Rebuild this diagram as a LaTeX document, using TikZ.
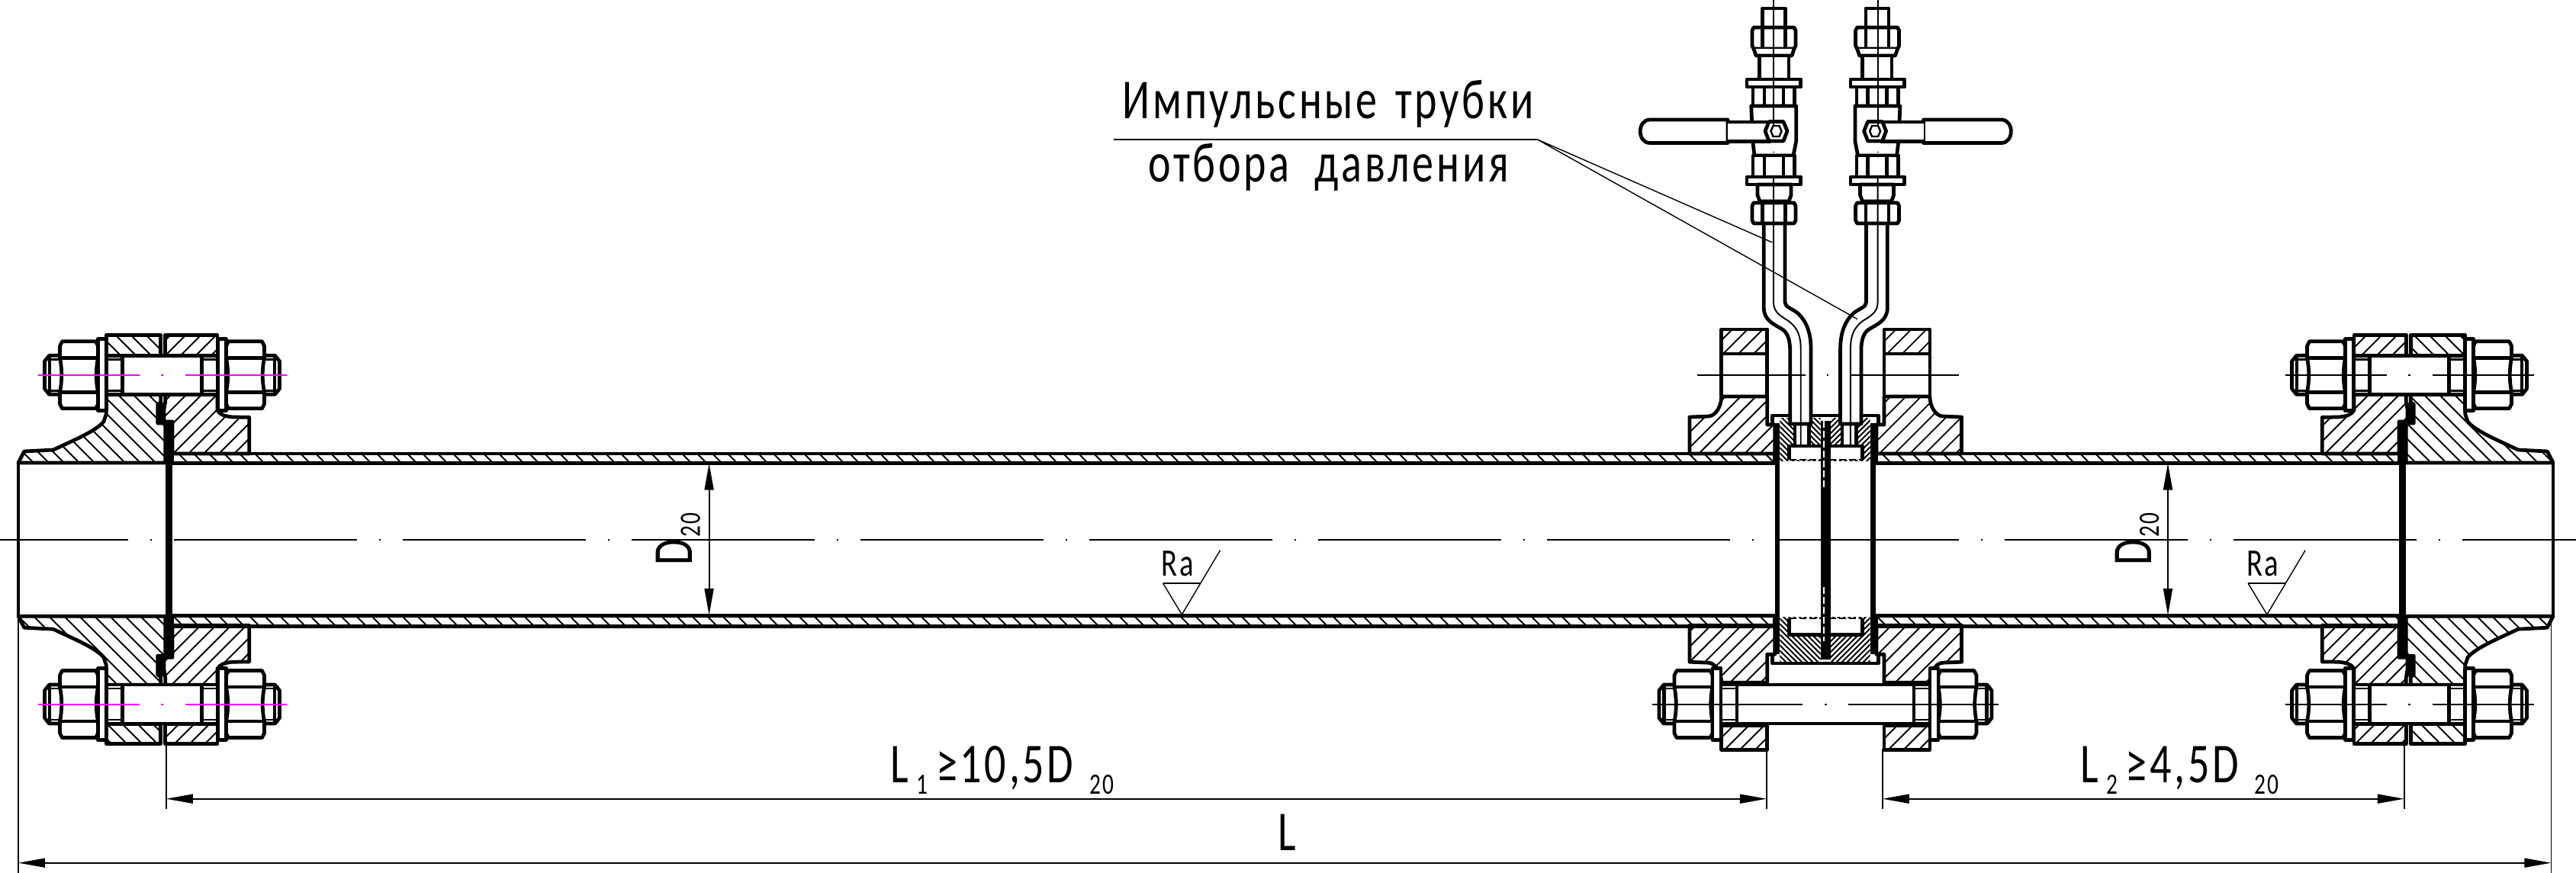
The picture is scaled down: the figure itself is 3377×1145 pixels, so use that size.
\documentclass[tikz,border=0pt]{standalone}
\usepackage{fontspec}
\setmainfont{Carlito}
\newfontfamily\gostfont[FakeStretch=0.76,LetterSpace=5]{Carlito}
\usetikzlibrary{arrows.meta}
\tikzstyle{contour} = [draw=black, line width=1.35pt, line join=round]
\tikzstyle{hatchline} = [draw=black, line width=0.55pt]
\tikzstyle{medline} = [draw=black, line width=0.7pt]
\tikzstyle{dimline} = [draw=black, line width=0.55pt]
\tikzstyle{leaderline} = [draw=black, line width=0.4pt]
\tikzstyle{hiddenline} = [draw=black, line width=0.55pt, dash pattern=on 2.5pt off 1.2pt]
\tikzstyle{dimarrow} = [dimline, {Triangle[length=10pt,width=3.4pt]}-{Triangle[length=10pt,width=3.4pt]}]
\tikzstyle{pinkaxis} = [draw=magenta, line width=0.55pt]
\tikzstyle{blackaxis} = [draw=black, line width=0.55pt]
\tikzstyle{gostlabel} = [font=\gostfont\fontsize{21}{25}\selectfont, inner sep=0pt]
\tikzstyle{roughlabel} = [font=\gostfont\fontsize{14.5}{17}\selectfont, inner sep=0pt]
\tikzstyle{smalllabel} = [font=\gostfont\fontsize{11}{13}\selectfont, inner sep=0pt]
\definecolor{magenta}{RGB}{255,0,255}
\newcommand{\gostsub}[1]{\raisebox{-4.3pt}{\fontsize{11}{13}\selectfont #1}}
% path, direction, spacing, x from, x to
\newcommand{\hatchonly}[5]{%
    \begin{scope}
        \clip #1;
        \pgfmathsetmacro{\hfirst}{#4-300}
        \pgfmathsetmacro{\hnext}{#4-300+#3}
        \pgfmathsetmacro{\hlast}{#5+300}
        \foreach \i in {\hfirst,\hnext,...,\hlast}
            \draw[hatchline] ({\i-300*#2},407) -- ({\i+300*#2},1007);
    \end{scope}
}
\newcommand{\hatcharea}[5]{%
    \hatchonly{#1}{#2}{#3}{#4}{#5}
    \draw[contour] #1;
}
% centre x, centre y, half span, axis style
\newcommand{\boltset}[4]{%
    \foreach \side in {-1,1} {
        \begin{scope}[shift={(#1,#2)},xscale=\side]
            \draw[contour,fill=white] (0,-25.5) -- ({#3-21},-25.5) -- ({#3-21},25.5) -- (0,25.5);
            \begin{scope}[shift={(#3,0)}]
                \draw[contour,fill=white] (-21,-25.5) rectangle (0,25.5);
                \draw[medline] (-21,-20.5) -- (0,-20.5) (-21,20.5) -- (0,20.5);
                \draw[contour,fill=white] (61,-25.5) -- (75,-25.5) -- (81,-18) -- (81,18) -- (75,25.5) -- (61,25.5);
                \draw[contour] (74.5,-25.5) -- (74.5,25.5);
                \draw[medline] (61,-20.5) -- (74.5,-20.5) (61,20.5) -- (74.5,20.5);
                \draw[contour,fill=white] (14,-44) -- (58,-44) -- (61,-38) -- (61,-22.5) .. controls (58,-8) and (58,8) .. (61,22.5) -- (61,38) -- (58,44) -- (14,44) -- (11,38) -- (11,22.5) .. controls (14,8) and (14,-8) .. (11,-22.5) -- (11,-38) -- cycle;
                \draw[contour] (11,-22.5) -- (61,-22.5) (11,22.5) -- (61,22.5);
                \draw[contour,fill=white] (0,-47) rectangle (11,47);
            \end{scope}
            \draw[#4] (30,0) -- ({#3+90},0);
            \draw[#4] (0,0) -- (1.5,0);
        \end{scope}
    }
}
% hatch direction of the hub, hatch direction of the loose flange
\newcommand{\flangehalf}[2]{%
    \hatcharea{(24,607) -- (31.7,592) -- (70,590) .. controls (95,578) and (125,566) .. (136,553) -- (139.3,543) -- (139.3,517) -- (210.7,517) -- (210.7,528) -- (206.7,530) -- (206.7,555) -- (216.7,555) -- (216.7,607) -- cycle}{#1}{20}{24}{217}
    \hatcharea{(216.7,517) -- (216.7,527) -- (215,537) -- (215,553) -- (226,553) -- (226,595) -- (326.7,595) -- (326.7,547.3) -- (305,547) .. controls (295,546) and (288,544) .. (285,538) -- (285,517) -- cycle}{#2}{20}{215}{327}
    \hatcharea{(139.3,439.4) rectangle (210.7,466)}{#1}{20}{139}{211}
    \hatcharea{(216.7,439.4) rectangle (285,466)}{#2}{20}{216}{285}
    \fill (207,530) -- (216.7,527.5) -- (216.7,532) -- (215,537) -- (215,556) -- (207,556) -- cycle;
    \fill (216.7,553) rectangle (226,707.6);
    \draw[contour] (24,607) -- (24,707.6);
}
\newcommand{\midflange}[1]{%
    \hatcharea{(2215,595) -- (2215,547) -- (2240,546) .. controls (2250,545) and (2256.7,532) .. (2256.7,520) -- (2316.7,520) -- (2316.7,557) -- (2326.7,557) -- (2326.7,595) -- cycle}{#1}{20}{2215}{2327}
    \hatcharea{(2256.7,432) rectangle (2316.7,464)}{#1}{20}{2256}{2317}
    \draw[contour] (2256.7,464) -- (2256.7,520) (2316.7,464) -- (2316.7,520);
}
\newcommand{\valveline}{%
    \fill[white] (2346.7,530) rectangle (2374,556);
    \draw[contour,fill=white] (2353,556) rectangle (2371.7,585);
    \draw[contour] (2312.3,293) -- (2312.3,403.6) .. controls (2312.3,420) and (2325,425) .. (2336.7,432) .. controls (2343,436) and (2346.7,445) .. (2346.7,460) -- (2346.7,556) -- (2374,556) -- (2374,457) .. controls (2374,435) and (2367,420) .. (2356.7,410.7) .. controls (2350,405) and (2340,403) .. (2340,396.4) -- (2340,293);
    \draw[contour,fill=white] (2310.7,11) rectangle (2340.7,36);
    \draw[contour,fill=white] (2299,36) -- (2352,36) -- (2354,40) -- (2354,60) -- (2352,64) -- (2299,64) -- (2297,60) -- (2297,40) -- cycle;
    \draw[contour] (2310.7,36) -- (2310.7,64) (2340.7,36) -- (2340.7,64);
    \draw[contour,fill=white] (2299,64) -- (2302,73) -- (2349,73) -- (2352,64);
    \draw[contour,fill=white] (2306.7,73) rectangle (2345,104);
    \draw[contour,fill=white] (2290,104) rectangle (2360.7,114);
    \draw[contour,fill=white] (2298,114) rectangle (2352.7,139);
    \draw[contour] (2313,114) -- (2313,139) (2338,114) -- (2338,139);
    \draw[contour,fill=white] (2295.7,139) -- (2354.7,139) -- (2354.7,185) -- (2351,204) -- (2300,204) -- (2297.7,185) -- cycle;
    \draw[contour,fill=white] (2298,204) rectangle (2352.7,232);
    \draw[contour] (2313,204) -- (2313,232) (2338,204) -- (2338,232);
    \draw[contour,fill=white] (2290,232) rectangle (2360.7,242);
    \draw[contour,fill=white] (2304,242) -- (2348,242) -- (2348,256) -- (2345,264) -- (2307,264) -- (2304,256) -- cycle;
    \draw[contour,fill=white] (2299,266) -- (2352,266) -- (2354,270) -- (2354,289) -- (2352,293) -- (2299,293) -- (2297,289) -- (2297,270) -- cycle;
    \draw[contour] (2310.7,266) -- (2310.7,293) (2340.7,266) -- (2340.7,293);
    \draw[contour,fill=white] (2265,157) -- (2163,157) .. controls (2146,157) and (2146,187.5) .. (2163,187.5) -- (2265,187.5) -- cycle;
    \draw[contour,fill=white] (2265,160) -- (2320,160) -- (2320,185.7) -- (2265,185.7);
    \draw[contour,fill=white] (2314,172) -- (2319,159.5) -- (2338,159.5) -- (2343,172) -- (2338,185) -- (2319,185) -- cycle;
    \draw[medline] (2321.5,172) -- (2324.5,165) -- (2332.5,165) -- (2335.5,172) -- (2332.5,179) -- (2324.5,179) -- cycle;
    \draw[blackaxis] (2325,0) -- (2325,166);
    \draw[blackaxis] (2325,199) -- (2325,200);
    \draw[blackaxis] (2325,232) -- (2325,396) .. controls (2325,408) and (2332,413) .. (2340,418) .. controls (2352,425) and (2360.7,435) .. (2360.7,457) -- (2360.7,585);
}

\begin{document}
\begin{tikzpicture}[x=0.01cm,y=-0.01cm]
    \useasboundingbox (0,0) rectangle (3377,1145);

    \draw[blackaxis,dash pattern=on 68.29pt off 8.25pt on 0.5pt off 8.25pt,dash phase=20.4pt] (0,707.6) -- (3377,707.6);

    % pipe walls
    \hatcharea{(226,595) rectangle (2326.7,607.5)}{1}{20}{226}{2327}
    \hatcharea{(226,807.5) rectangle (2326.7,821.5)}{1}{20}{226}{2327}
    \hatcharea{(2459.3,595) rectangle (3145,607.5)}{1}{20}{2459}{3145}
    \hatcharea{(2459.3,807.5) rectangle (3145,821.5)}{1}{20}{2459}{3145}

    % end flanges
    \flangehalf{1}{-1}
    \begin{scope}[shift={(0,1415.2)},yscale=-1]
        \flangehalf{-1}{1}
    \end{scope}
    \begin{scope}[shift={(3371,0)},xscale=-1]
        \flangehalf{-1}{1}
    \end{scope}
    \begin{scope}[shift={(3371,1415.2)},xscale=-1,yscale=-1]
        \flangehalf{1}{-1}
    \end{scope}

    % middle flanges
    \midflange{-1}
    \begin{scope}[shift={(4786.6,0)},xscale=-1]
        \midflange{1}
    \end{scope}
    \begin{scope}[shift={(0,1415.2)},yscale=-1]
        \midflange{1}
    \end{scope}
    \begin{scope}[shift={(4786.6,1415.2)},xscale=-1,yscale=-1]
        \midflange{-1}
    \end{scope}

    % chamber between the middle flanges
    \hatchonly{(2333.3,548) rectangle (2386.7,604)}{1}{7}{2333}{2387}
    \hatchonly{(2400,548) rectangle (2451.7,604)}{-1}{7}{2400}{2452}
    \hatchonly{(2333.3,809) rectangle (2386.7,868)}{1}{7}{2333}{2387}
    \hatchonly{(2400,809) rectangle (2451.7,868)}{-1}{7}{2400}{2452}
    \draw[contour,fill=white] (2345.7,603) -- (2345.7,585) -- (2441.7,585) -- (2441.7,603);
    \draw[hiddenline] (2345.7,603) -- (2441.7,603);
    \draw[contour,fill=white] (2345.7,811) -- (2345.7,832.5) -- (2441.7,832.5) -- (2441.7,811);
    \draw[hiddenline] (2345.7,811) -- (2441.7,811);
    \draw[contour] (2323.3,557) -- (2323.3,545) -- (2462.7,545) -- (2462.7,557);
    \draw[contour] (2323.3,857.5) -- (2323.3,870) -- (2462.7,870) -- (2462.7,857.5);
    \fill (2326.7,555) rectangle (2333.3,857.5);
    \fill (2451.7,555) rectangle (2459.3,857.5);
    \fill (2386.7,552) rectangle (2400,864.6);
    \draw[white,line width=0.55pt,dash pattern=on 2.5pt off 1.2pt] (2391,552) -- (2391,641) (2391,770) -- (2391,841);

    % bolts
    \boltset{212.5}{491.8}{73}{pinkaxis}
    \boltset{212.5}{923.6}{73}{pinkaxis}
    \boltset{3158.5}{491.8}{73}{blackaxis}
    \boltset{3158.5}{923.6}{73}{blackaxis}
    \boltset{2393}{923.6}{137}{blackaxis}
    \draw[blackaxis] (2225,491.8) -- (2366.7,491.8) (2426.7,491.8) -- (2567.7,491.8) (2395,491.8) -- (2396.5,491.8);

    % impulse tubes with valves
    \valveline
    \begin{scope}[shift={(4786.6,0)},xscale=-1]
        \valveline
    \end{scope}

    % leader
    \node[gostlabel,anchor=base west] (tubetop) at (1471,155) {Импульсные\hspace{0.32em}трубки};
    \node[gostlabel,anchor=base west] (tubebottom) at (1504.6,238) {отбора\hspace{0.45em}давления};
    \coordinate (leaderstart) at (1459.7,182.7);
    \coordinate (leaderknee) at (2015,182.7);
    \coordinate (leaderleft) at (2323.3,318);
    \coordinate (leaderright) at (2435,418.6);
    \draw[dimline] (leaderstart) -- (leaderknee);
    \draw[leaderline] (leaderleft) -- (leaderknee) -- (leaderright);

    % diameter and roughness
    \foreach \dx/\rx/\nm in {929.6/0/a,2842/1422.5/b} {
        \coordinate (dtop\nm) at (\dx,607.5);
        \coordinate (dbot\nm) at (\dx,807);
        \draw[dimarrow] (dtop\nm) -- (dbot\nm);
        \node[gostlabel,rotate=90,anchor=base west] (dlabel\nm) at ({\dx-22},742) {D};
        \node[smalllabel,rotate=90,anchor=base west] (dsub\nm) at ({\dx-12},705) {20};
        \draw[leaderline] ({1524.6+\rx},765) -- ({1574+\rx},765);
        \draw[leaderline] ({1524.6+\rx},765) -- ({1549.4+\rx},806) -- ({1599.6+\rx},721.7);
        \node[roughlabel,anchor=base west] (ra\nm) at ({1522+\rx},755) {Ra};
    }

    % length dimensions
    \coordinate (leftend) at (24,807);
    \coordinate (rightend) at (3344.5,807);
    \coordinate (runa) at (217.7,974);
    \coordinate (runb) at (2316,982);
    \coordinate (runc) at (2467.7,982);
    \coordinate (rund) at (3152,974);
    \draw[dimline] (leftend) -- (24,1145);
    \draw[dimline] (rightend) -- (3344.5,1145);
    \draw[dimline] (runa) -- (217.7,1061);
    \draw[dimline] (runb) -- (2316,1061);
    \draw[dimline] (runc) -- (2467.7,1061);
    \draw[dimline] (rund) -- (3152,1061);
    \coordinate (lonea) at (217.7,1047.7);
    \coordinate (loneb) at (2316,1047.7);
    \coordinate (ltwoa) at (2467.7,1047.7);
    \coordinate (ltwob) at (3152,1047.7);
    \coordinate (lalla) at (24,1131.7);
    \coordinate (lallb) at (3344.5,1131.7);
    \draw[dimarrow] (lonea) -- (loneb);
    \draw[dimarrow] (ltwoa) -- (ltwob);
    \draw[dimarrow] (lalla) -- (lallb);
    \node[gostlabel,anchor=base west] (lonetext) at (1167,1026) {L\kern3pt\gostsub{1}\kern3pt≥\kern1pt10,5D\kern6pt\gostsub{20}};
    \node[gostlabel,anchor=base west] (ltwotext) at (2726.5,1026) {L\kern3pt\gostsub{2}\kern3pt≥\kern1pt4,5D\kern6pt\gostsub{20}};
    \node[gostlabel,anchor=base west] (lalltext) at (1674.6,1115) {L};
\end{tikzpicture}
\end{document}
